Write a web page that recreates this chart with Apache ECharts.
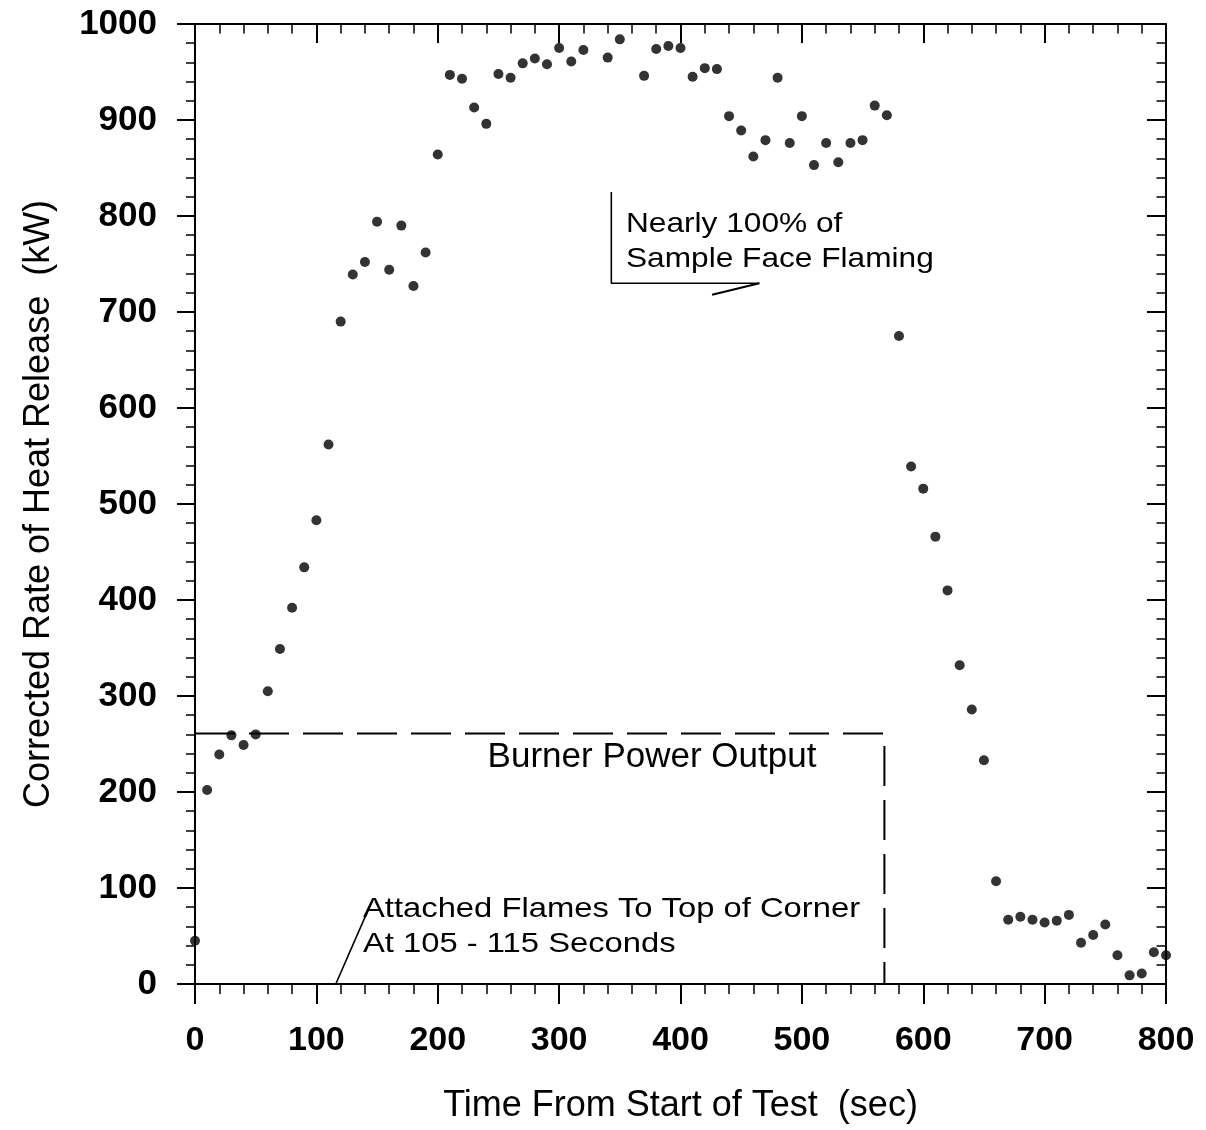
<!DOCTYPE html>
<html>
<head>
<meta charset="utf-8">
<title>Corrected Rate of Heat Release</title>
<script src="https://cdn.jsdelivr.net/npm/echarts@6/dist/echarts.min.js"></script>
<style>
  html, body { margin: 0; padding: 0; background: #fff; }
  #echarts { width: 1206px; height: 1130px; }
</style>
</head>
<body>
<div id="echarts"></div>
<script>
// time (sec) of each reading, no readings at 330 and 360
var times = [0, 10, 20, 30, 40, 50, 60, 70, 80, 90,
  100, 110, 120, 130, 140, 150, 160, 170, 180, 190,
  200, 210, 220, 230, 240, 250, 260, 270, 280, 290,
  300, 310, 320, 340, 350, 370, 380, 390,
  400, 410, 420, 430, 440, 450, 460, 470, 480, 490,
  500, 510, 520, 530, 540, 550, 560, 570, 580, 590,
  600, 610, 620, 630, 640, 650, 660, 670, 680, 690,
  700, 710, 720, 730, 740, 750, 760, 770, 780, 790, 800];
// corrected heat release rate (kW)
var hrr = [45, 202, 239, 259, 249, 260, 305, 349, 392, 434,
  483, 562, 690, 739, 752, 794, 744, 790, 727, 762,
  864, 947, 943, 913, 896, 948, 944, 959, 964, 958,
  975, 961, 973, 965, 984, 946, 974, 977,
  975, 945, 954, 953, 904, 889, 862, 879, 944, 876,
  904, 853, 876, 856, 876, 879, 915, 905, 675, 539,
  516, 466, 410, 332, 286, 233, 107, 67, 70, 67,
  64, 66, 72, 43, 51, 62, 30, 9, 11, 33, 30];
// burner output (kW) and the time it was switched off
var burnerKw = 261;
var burnerOff = 568;
var xTicks = [0, 100, 200, 300, 400, 500, 600, 700, 800];
var yTicks = [0, 100, 200, 300, 400, 500, 600, 700, 800, 900, 1000];

// annotation strokes, in data units [sec, kW]
var flamingArrow = [[343, 825], [343, 730], [465, 730]];
var flamingBarb = [[426, 718], [465, 730]];
var attachedMark = [[116, 0], [145, 84]];

var points = times.map(function (t, i) { return [t, hrr[i]]; });
var burner = [[0, burnerKw], [burnerOff, burnerKw], [burnerOff, 0]];

var FONT = 'Liberation Sans, Arial, sans-serif';

// common axis pieces
function frameAxis(pos, ticks, inside, showLabel, len) {
  return {
    type: 'value',
    position: pos,
    min: ticks[0],
    max: ticks[ticks.length - 1],
    interval: ticks[1] - ticks[0],
    axisLine: { show: true, onZero: false, lineStyle: { color: '#000', width: 2 } },
    axisTick: { show: true, inside: inside, length: len, lineStyle: { color: '#000', width: 2 } },
    minorTick: { show: true, splitNumber: 5, length: len / 2, lineStyle: { color: '#000', width: 1.5 } },
    splitLine: { show: false },
    minorSplitLine: { show: false },
    axisLabel: { show: showLabel }
  };
}

var myChart = echarts.init(document.getElementById('echarts'));

var xBottom = frameAxis('bottom', xTicks, false, true, 20);
xBottom.axisLabel = { show: true, margin: 40, color: '#000', fontSize: 34, fontWeight: 'bold', fontFamily: FONT,
  formatter: function (v) { return String(v); } };
xBottom.name = 'Time From Start of Test  (sec)';
xBottom.nameLocation = 'middle';
xBottom.nameGap = 104;
xBottom.nameTextStyle = { color: '#000', fontSize: 36, fontFamily: FONT };

var yLeft = frameAxis('left', yTicks, false, true, 18);
yLeft.axisLabel = { show: true, margin: 38, color: '#000', fontSize: 35, fontWeight: 'bold', fontFamily: FONT,
  formatter: function (v) { return String(v); } };
yLeft.name = 'Corrected Rate of Heat Release  (kW)';
yLeft.nameLocation = 'middle';
yLeft.nameGap = 138;
yLeft.nameTextStyle = { color: '#000', fontSize: 36, fontFamily: FONT };

var option = {
  animation: false,
  backgroundColor: '#fff',
  grid: { left: 195, right: 40, top: 24, bottom: 146, containLabel: false, outerBoundsMode: 'none' },
  xAxis: [xBottom, frameAxis('top', xTicks, true, false, 19)],
  yAxis: [yLeft, frameAxis('right', yTicks, true, false, 19)],
  series: [
    {
      // measured points
      type: 'scatter',
      data: points,
      symbol: 'circle',
      symbolSize: 10,
      clip: false,
      itemStyle: { color: '#000' },
      z: 5
    },
    {
      // burner power output
      type: 'line',
      data: burner,
      showSymbol: false,
      symbol: 'none',
      lineStyle: { color: '#000', width: 2, type: [40, 14] },
      z: 3
    },
    {
      type: 'line',
      data: flamingArrow,
      symbol: 'none',
      lineStyle: { color: '#000', width: 1.6 },
      z: 3
    },
    {
      type: 'line',
      data: flamingBarb,
      symbol: 'none',
      lineStyle: { color: '#000', width: 2.2 },
      z: 3
    },
    {
      type: 'line',
      data: attachedMark,
      symbol: 'none',
      lineStyle: { color: '#000', width: 1.6 },
      z: 3
    }
  ],
  graphic: [
    { type: 'text', x: 626, y: 224, scaleX: 1.13,
      style: { text: 'Nearly 100% of', font: '28px ' + FONT, fill: '#000', align: 'left', verticalAlign: 'middle' } },
    { type: 'text', x: 626, y: 259, scaleX: 1.13,
      style: { text: 'Sample Face Flaming', font: '28px ' + FONT, fill: '#000', align: 'left', verticalAlign: 'middle' } },
    { type: 'text', x: 652, y: 757,
      style: { text: 'Burner Power Output', font: '35px ' + FONT, fill: '#000', align: 'center', verticalAlign: 'middle' } },
    { type: 'text', x: 363, y: 909, scaleX: 1.17,
      style: { text: 'Attached Flames To Top of Corner', font: '28px ' + FONT, fill: '#000', align: 'left', verticalAlign: 'middle' } },
    { type: 'text', x: 363, y: 944, scaleX: 1.17,
      style: { text: 'At 105 - 115 Seconds', font: '28px ' + FONT, fill: '#000', align: 'left', verticalAlign: 'middle' } }
  ]
};

myChart.setOption(option);
window.addEventListener('resize', function () {
  myChart.resize();
});
</script>
</body>
</html>
